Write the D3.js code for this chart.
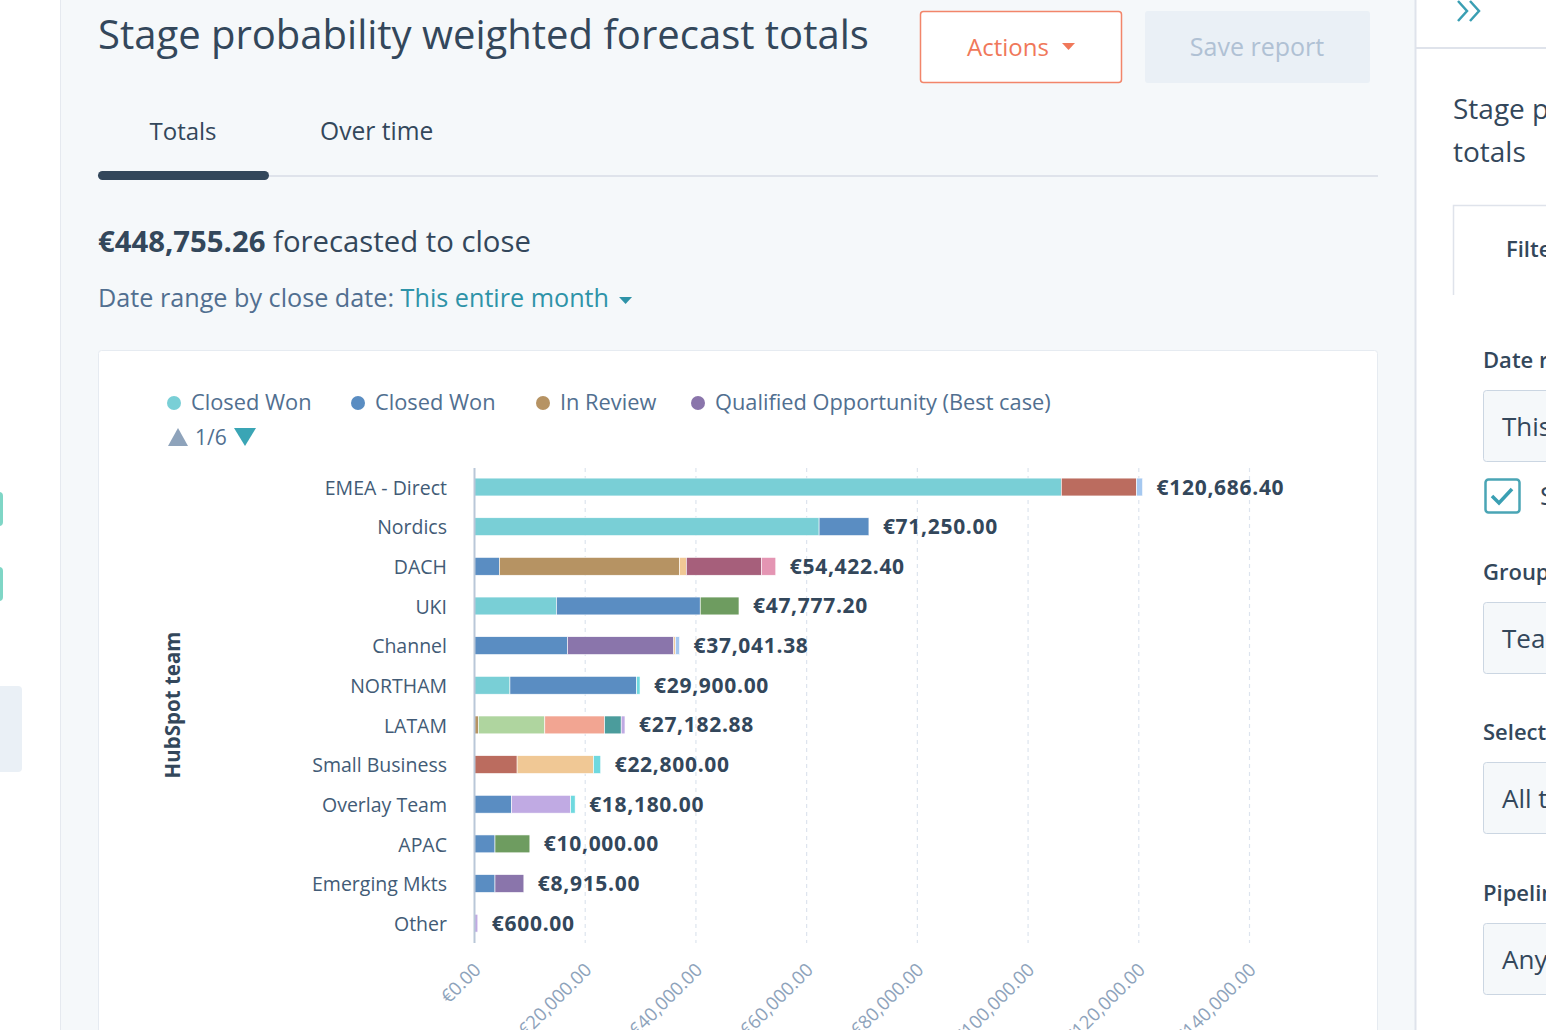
<!DOCTYPE html>
<html>
<head>
<meta charset="utf-8">
<script src="https://cdn.jsdelivr.net/npm/d3@7"></script>
<style>
  html, body { margin: 0; padding: 0; background: #ffffff; overflow: hidden; }
  svg { display: block; font-family: "Open Sans", Lato, sans-serif; }
</style>
</head>
<body>
<div id="chart"></div>
<script>
// teams, top to bottom
const teams = ["EMEA - Direct", "Nordics", "DACH", "UKI", "Channel", "NORTHAM", "LATAM",
  "Small Business", "Overlay Team", "APAC", "Emerging Mkts", "Other"];

// deal stages in stacking order (only the first four are on legend page 1/6)
const stageKeys = ["cw1", "cw2", "review", "qualified", "s5", "s6", "s7", "s8", "s9",
  "s10", "s11", "s12", "s13", "s14", "s15"];
const stageNames = ["Closed Won", "Closed Won", "In Review", "Qualified Opportunity (Best case)",
  "Stage 5", "Stage 6", "Stage 7", "Stage 8", "Stage 9", "Stage 10", "Stage 11",
  "Stage 12", "Stage 13", "Stage 14", "Stage 15"];
const stageColors = ["#79cfd6", "#5a8dc2", "#b69363", "#8a75ab", "#bb6c5f", "#afd59f",
  "#f2a592", "#4b9c9c", "#f0c895", "#a65f7b", "#e495b3", "#a5c8f0", "#6e9c60", "#c0aae3", "#6fd9df"];

// weighted amounts per team (EUR), one entry per stage key
const emeaDirect    = [106000, 0, 0, 0, 13600, 0, 0, 0, 0, 0, 0, 1086.40, 0, 0, 0];
const nordics       = [62250, 9000, 0, 0, 0, 0, 0, 0, 0, 0, 0, 0, 0, 0, 0];
const dach          = [0, 4500, 32500, 0, 0, 0, 0, 0, 1260, 13550, 2612.40, 0, 0, 0, 0];
const uki           = [14800, 25977.20, 0, 0, 0, 0, 0, 0, 0, 0, 0, 0, 7000, 0, 0];
const channel       = [0, 16800, 0, 19200, 0, 0, 0, 0, 300, 0, 0, 741.38, 0, 0, 0];
const northam       = [6400, 22900, 0, 0, 0, 0, 0, 0, 0, 0, 0, 0, 0, 0, 600];
const latam         = [0, 0, 700, 0, 0, 12000, 10800, 3000, 0, 0, 0, 0, 0, 682.88, 0];
const smallBusiness = [0, 0, 0, 0, 7700, 0, 0, 0, 13800, 0, 0, 0, 0, 0, 1300];
const overlayTeam   = [0, 6700, 0, 0, 0, 0, 0, 0, 0, 0, 0, 0, 0, 10680, 800];
const apac          = [0, 3700, 0, 0, 0, 0, 0, 0, 0, 0, 0, 0, 6300, 0, 0];
const emergingMkts  = [0, 3700, 0, 5215, 0, 0, 0, 0, 0, 0, 0, 0, 0, 0, 0];
const other         = [0, 0, 0, 0, 0, 0, 0, 0, 0, 0, 0, 0, 0, 600, 0];

const xTicks = [0, 20000, 40000, 60000, 80000, 100000, 120000, 140000];

const teamValues = [emeaDirect, nordics, dach, uki, channel, northam, latam,
  smallBusiness, overlayTeam, apac, emergingMkts, other];

const rows = teams.map((t, i) => {
  const r = { team: t };
  stageKeys.forEach((k, j) => r[k] = teamValues[i][j]);
  r.total = d3.sum(teamValues[i]);
  return r;
});

const W = 1546, H = 1030;
const euro = v => "€" + d3.format(",.2f")(v);

const svg = d3.select("#chart").append("svg")
  .attr("width", W).attr("height", H);

// ---------- page chrome ----------
svg.append("rect").attr("width", W).attr("height", H).attr("fill", "#ffffff");
svg.append("rect").attr("x", 60).attr("width", 1355).attr("height", H).attr("fill", "#f5f8fa");
svg.append("line").attr("x1", 60.5).attr("x2", 60.5).attr("y1", 0).attr("y2", H)
  .attr("stroke", "#e5e9ef");
// left nav bits
svg.append("rect").attr("x", -6).attr("y", 492).attr("width", 9).attr("height", 34).attr("rx", 4).attr("fill", "#7fd6c6");
svg.append("rect").attr("x", -6).attr("y", 567).attr("width", 9).attr("height", 34).attr("rx", 4).attr("fill", "#7fd6c6");
svg.append("rect").attr("x", -6).attr("y", 686).attr("width", 28).attr("height", 86).attr("rx", 4).attr("fill", "#eaf0f6");

// title
svg.append("text").attr("x", 98).attr("y", 49)
  .attr("font-size", 40).attr("fill", "#33475b").text("Stage probability weighted forecast totals");

// buttons
svg.append("rect").attr("x", 920.5).attr("y", 11.5).attr("width", 201).attr("height", 71).attr("rx", 3)
  .attr("fill", "#ffffff").attr("stroke", "#f2856a").attr("stroke-width", 1.5);
svg.append("text").attr("x", 1008).attr("y", 56).attr("text-anchor", "middle")
  .attr("font-size", 24).attr("fill", "#f0785a").text("Actions");
svg.append("path").attr("d", "M1062,43 L1075,43 L1068.5,50 Z").attr("fill", "#f0785a");
svg.append("rect").attr("x", 1145).attr("y", 11).attr("width", 225).attr("height", 72).attr("rx", 3)
  .attr("fill", "#eaf0f6");
svg.append("text").attr("x", 1257).attr("y", 56).attr("text-anchor", "middle")
  .attr("font-size", 25).attr("fill", "#b0c1d4").text("Save report");

// tabs
svg.append("text").attr("x", 183).attr("y", 140).attr("text-anchor", "middle")
  .attr("font-size", 24).attr("fill", "#33475b").text("Totals");
svg.append("text").attr("x", 320).attr("y", 140)
  .attr("font-size", 24.6).attr("fill", "#33475b").text("Over time");
svg.append("rect").attr("x", 98).attr("y", 175).attr("width", 1280).attr("height", 2).attr("fill", "#dfe3eb");
svg.append("rect").attr("x", 98).attr("y", 171).attr("width", 171).attr("height", 9).attr("rx", 4.5).attr("fill", "#33475b");

// summary
const summary = svg.append("text").attr("x", 98).attr("y", 252).attr("font-size", 29.3).attr("fill", "#33475b");
summary.append("tspan").attr("font-weight", 700).text(euro(d3.sum(rows, d => d.total)));
summary.append("tspan").text(" forecasted to close");
const range = svg.append("text").attr("x", 98).attr("y", 307).attr("font-size", 25.2).attr("fill", "#516f90");
range.append("tspan").text("Date range by close date: ");
range.append("tspan").attr("fill", "#2e93a8").text("This entire month");
const rangeEnd = 98 + range.node().getComputedTextLength();
svg.append("path").attr("d", `M${rangeEnd + 10},297 L${rangeEnd + 23},297 L${rangeEnd + 16.5},304 Z`).attr("fill", "#2e93a8");

// card
svg.append("rect").attr("x", 98.5).attr("y", 350.5).attr("width", 1279).attr("height", 720).attr("rx", 3)
  .attr("fill", "#ffffff").attr("stroke", "#e6ebf1");

// ---------- right panel ----------
svg.append("rect").attr("x", 1415).attr("width", W - 1415).attr("height", H).attr("fill", "#ffffff");
svg.append("line").attr("x1", 1415.5).attr("x2", 1415.5).attr("y1", 0).attr("y2", H).attr("stroke", "#dfe3eb").attr("stroke-width", 2);
svg.append("line").attr("x1", 1416).attr("x2", W).attr("y1", 48).attr("y2", 48).attr("stroke", "#dfe3eb").attr("stroke-width", 2);
svg.append("path").attr("d", "M1458,1 L1467,11 L1458,21 M1470,1 L1479,11 L1470,21")
  .attr("fill", "none").attr("stroke", "#3a9fb3").attr("stroke-width", 2.5);
svg.append("text").attr("x", 1453).attr("y", 119).attr("font-size", 28).attr("fill", "#33475b").text("Stage probability weighted forecast");
svg.append("text").attr("x", 1453).attr("y", 162).attr("font-size", 28).attr("fill", "#33475b").text("totals");
svg.append("path").attr("d", "M1453.5,295 L1453.5,205.5 L1560,205.5").attr("fill", "none").attr("stroke", "#dfe3eb").attr("stroke-width", 1.5);
svg.append("text").attr("x", 1506).attr("y", 257).attr("font-size", 22).attr("font-weight", 600).attr("fill", "#33475b").text("Filters");

const fields = [
  { label: "Date range", value: "This entire month", y: 360 },
  { label: "Group by", value: "Team", y: 572 },
  { label: "Select teams", value: "All teams", y: 732 },
  { label: "Pipeline", value: "Any", y: 893 }
];
fields.forEach(f => {
  svg.append("text").attr("x", 1483).attr("y", f.y + 8).attr("font-size", 22).attr("font-weight", 600)
    .attr("fill", "#33475b").text(f.label);
  svg.append("rect").attr("x", 1483.5).attr("y", f.y + 30.5).attr("width", 120).attr("height", 71).attr("rx", 3)
    .attr("fill", "#f5f8fa").attr("stroke", "#cbd6e2");
  svg.append("text").attr("x", 1502).attr("y", f.y + 76).attr("font-size", 26).attr("fill", "#33475b").text(f.value);
});
svg.append("rect").attr("x", 1485.5).attr("y", 479.5).attr("width", 34).attr("height", 33).attr("rx", 3)
  .attr("fill", "#ffffff").attr("stroke", "#4aa5b5").attr("stroke-width", 2.5);
svg.append("path").attr("d", "M1492,496 L1499,503 L1512,489").attr("fill", "none")
  .attr("stroke", "#3a9fb3").attr("stroke-width", 3.5);
svg.append("text").attr("x", 1540).attr("y", 505).attr("font-size", 26).attr("fill", "#33475b").text("Show");

// ---------- chart ----------
const x = d3.scaleLinear().domain([0, 140000]).range([474.5, 1249.5]);
const y = d3.scaleBand().domain(teams).range([467.2, 943]).paddingInner(0.55).paddingOuter(0.275);

const g = svg.append("g");

// grid
g.selectAll(".grid").data(xTicks.slice(1)).enter().append("line")
  .attr("x1", d => x(d)).attr("x2", d => x(d)).attr("y1", 468).attr("y2", 943)
  .attr("stroke", "#dde4ee").attr("stroke-width", 1.2).attr("stroke-dasharray", "4,4");

// stacked bars
const stack = d3.stack().keys(stageKeys);
const series = stack(rows);
g.selectAll(".layer").data(series).enter().append("g")
  .attr("fill", (d, i) => stageColors[i])
  .selectAll("rect").data(d => d.filter(p => p[1] - p[0] > 0)).enter().append("rect")
  .attr("x", d => x(d[0]))
  .attr("y", d => y(d.data.team))
  .attr("width", d => Math.max(1.5, x(d[1]) - x(d[0])))
  .attr("height", y.bandwidth())
  .attr("stroke", "#ffffff").attr("stroke-width", 0.6);

// axis line
g.append("line").attr("x1", 474.5).attr("x2", 474.5).attr("y1", 468).attr("y2", 943)
  .attr("stroke", "#b9c7d8").attr("stroke-width", 2);

// value labels
g.selectAll(".val").data(rows).enter().append("text")
  .attr("x", d => x(d.total) + 14)
  .attr("y", d => y(d.team) + y.bandwidth() / 2 + 7.5)
  .attr("font-size", 21).attr("font-weight", 700).attr("letter-spacing", 0.7).attr("fill", "#33475b")
  .text(d => euro(d.total));

// category axis
const yAxis = g.append("g").attr("transform", "translate(474,0)")
  .call(d3.axisLeft(y).tickSize(0).tickPadding(27));
yAxis.select(".domain").remove();
yAxis.selectAll("text").attr("font-size", 19.5).attr("fill", "#425b76")
  .attr("font-family", "'Open Sans', Lato, sans-serif").attr("dy", "0.4em");

// x axis
const xAxis = g.append("g").attr("transform", "translate(0,943)")
  .call(d3.axisBottom(x).tickValues(xTicks).tickSize(0).tickFormat(euro));
xAxis.select(".domain").remove();
xAxis.selectAll("text")
  .attr("font-size", 18.5).attr("fill", "#8ea3bb")
  .attr("font-family", "'Open Sans', Lato, sans-serif")
  .attr("text-anchor", "end")
  .attr("dy", 0).attr("y", 0)
  .attr("transform", "translate(7,28) rotate(-45)");

// axis title
svg.append("text").attr("transform", "translate(180,705) rotate(-90)")
  .attr("text-anchor", "middle").attr("font-size", 20.5).attr("font-weight", 700)
  .attr("fill", "#33475b").text("HubSpot team");

// legend (page 1 of 6)
const legendItems = [0, 1, 2, 3];
const legendX = [174, 358, 543, 698];
const legend = svg.append("g");
legendItems.forEach((s, i) => {
  legend.append("circle").attr("cx", legendX[i]).attr("cy", 403).attr("r", 7).attr("fill", stageColors[s]);
  legend.append("text").attr("x", legendX[i] + 17).attr("y", 410).attr("font-size", 21.8)
    .attr("fill", "#516f90").text(stageNames[s]);
});
legend.append("path").attr("d", "M168,446 L178,428 L188,446 Z").attr("fill", "#8ea3bb");
legend.append("text").attr("x", 195).attr("y", 445).attr("font-size", 21).attr("fill", "#516f90").text("1/6");
legend.append("path").attr("d", "M234,428 L256,428 L245,446 Z").attr("fill", "#3aa5b5");
</script>
</body>
</html>
